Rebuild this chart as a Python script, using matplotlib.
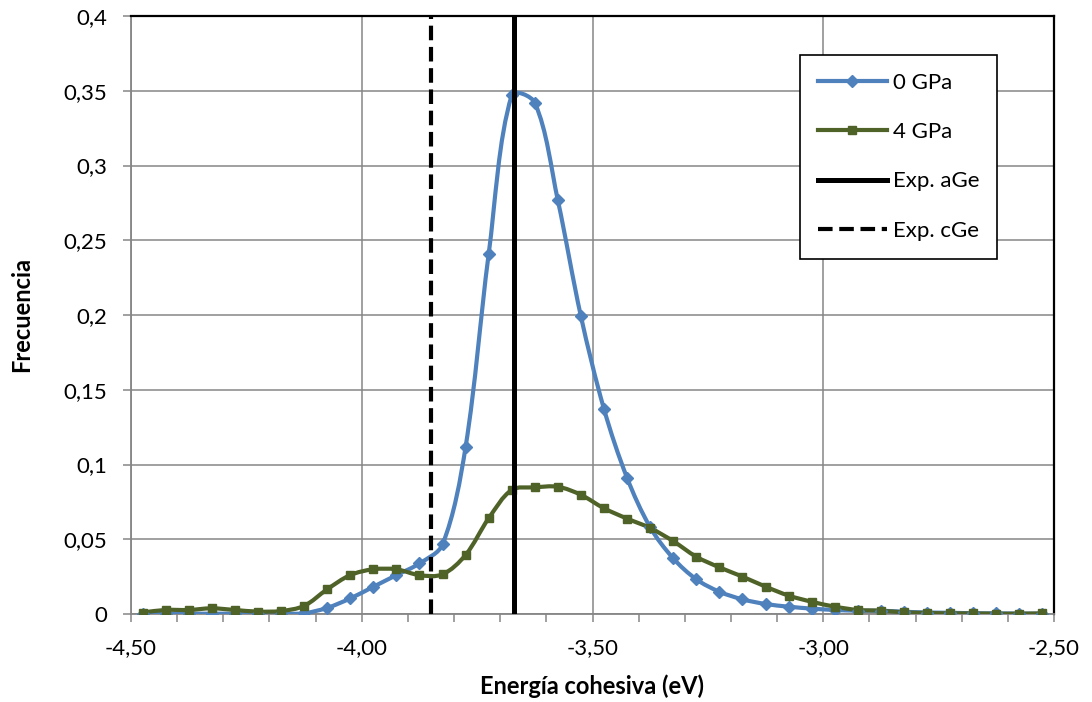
import numpy as np
import matplotlib.pyplot as plt
from matplotlib.path import Path
from matplotlib.patches import PathPatch
from matplotlib.lines import Line2D

plt.rcParams['font.family'] = ['Lato', 'DejaVu Sans']

# bin centres (eV)
energia = np.arange(-4.475, -2.5, 0.05)

frec_0gpa = [0.0002, 0.0002, 0.0002, 0.0002, 0.0002, 0.0002, 0.0002, 0.0005, 0.0041, 0.0104,
             0.0182, 0.0260, 0.0338, 0.0465, 0.1117, 0.2407, 0.3470, 0.3420, 0.2766, 0.1990,
             0.1370, 0.0910, 0.0580, 0.0372, 0.0232, 0.0149, 0.0098, 0.0067, 0.0049, 0.0036,
             0.0027, 0.0022, 0.0022, 0.0015, 0.0010, 0.0008, 0.0005, 0.0004, 0.0003, 0.0002]

frec_4gpa = [0.0010, 0.0027, 0.0027, 0.0038, 0.0027, 0.0016, 0.0020, 0.0054, 0.0165, 0.0260,
             0.0299, 0.0299, 0.0260, 0.0265, 0.0395, 0.0640, 0.0830, 0.0847, 0.0851, 0.0797,
             0.0707, 0.0638, 0.0575, 0.0487, 0.0383, 0.0312, 0.0250, 0.0183, 0.0123, 0.0082,
             0.0049, 0.0027, 0.0022, 0.0011, 0.0007, 0.0004, 0.0004, 0.0002, 0.0002, 0.0004]

exp_age = -3.67
exp_cge = -3.85

xticks = [-4.5, -4.0, -3.5, -3.0, -2.5]
xlabels = ['-4,50', '-4,00', '-3,50', '-3,00', '-2,50']
yticks = [0, 0.05, 0.1, 0.15, 0.2, 0.25, 0.3, 0.35, 0.4]
ylabels = ['0', '0,05', '0,1', '0,15', '0,2', '0,25', '0,3', '0,35', '0,4']

azul = '#4F81BD'
verde = '#4F6228'
gris = '#868686'


def curva_suave(ax, x, y):
    # Excel-like smoothed line: bezier control points scaled by segment lengths on screen
    tr = ax.transData
    pts = tr.transform(np.column_stack([x, y]))
    n = len(pts)
    d = np.hypot(*np.diff(pts, axis=0).T)
    verts = [pts[0]]
    codes = [Path.MOVETO]
    for i in range(n - 1):
        if i > 0:
            c1 = pts[i] + (pts[i + 1] - pts[i - 1]) * d[i] / (d[i - 1] + d[i]) / 3
        else:
            c1 = pts[i] + (pts[i + 1] - pts[i]) / 3
        if i + 2 < n:
            c2 = pts[i + 1] - (pts[i + 2] - pts[i]) * d[i] / (d[i] + d[i + 1]) / 3
        else:
            c2 = pts[i + 1] - (pts[i + 1] - pts[i]) / 3
        verts += [c1, c2, pts[i + 1]]
        codes += [Path.CURVE4] * 3
    verts = tr.inverted().transform(np.array(verts))
    return Path(verts, codes)


fig = plt.figure(figsize=(10.92, 7.02), dpi=100)
ax = fig.add_axes([131 / 1092, 1 - 614 / 702, 923 / 1092, 598 / 702])

ax.set_xlim(-4.5, -2.5)
ax.set_ylim(0, 0.4)

ax.grid(True, color=gris, lw=1.1, zorder=0)
ax.set_axisbelow(True)

ax.add_patch(PathPatch(curva_suave(ax, energia, frec_0gpa), fill=False, edgecolor=azul, lw=3, zorder=3))
ax.plot(energia, frec_0gpa, ls='none', marker='D', ms=6, color=azul, zorder=4)
ax.add_patch(PathPatch(curva_suave(ax, energia, frec_4gpa), fill=False, edgecolor=verde, lw=3, zorder=3))
ax.plot(energia, frec_4gpa, ls='none', marker='s', ms=5.5, color=verde, zorder=4)

ax.axvline(exp_age, color='black', lw=3.6, zorder=5)
ax.axvline(exp_cge, color='black', lw=3, ls=(0, (3.5, 1.6)), zorder=5)

ax.set_xticks(xticks)
ax.set_xticklabels(xlabels)
ax.set_xticks(np.arange(-4.5, -2.49, 0.1), minor=True)
ax.set_yticks(yticks)
ax.set_yticklabels(ylabels)
ax.tick_params(axis='both', which='both', direction='out', length=6, width=1.1, color=gris,
               labelsize=16)
ax.tick_params(axis='x', which='major', pad=11)
ax.tick_params(axis='y', which='major', pad=11)

for lado in ['left', 'bottom']:
    ax.spines[lado].set_color(gris)
    ax.spines[lado].set_linewidth(1.3)
for lado in ['top', 'right']:
    ax.spines[lado].set_color('black')
    ax.spines[lado].set_linewidth(1.6)

ax.set_xlabel('Energía cohesiva (eV)', fontsize=17, fontweight='bold', labelpad=12)
ax.set_ylabel('Frecuencia', fontsize=17, fontweight='bold', labelpad=22)

handles = [
    Line2D([], [], color=azul, lw=3, marker='D', ms=6),
    Line2D([], [], color=verde, lw=3, marker='s', ms=5.5),
    Line2D([], [], color='black', lw=3.6),
    Line2D([], [], color='black', lw=3, ls=(0, (3.5, 1.6))),
]
leg = ax.legend(handles, ['0 GPa', '4 GPa', 'Exp. aGe', 'Exp. cGe'],
                loc='upper left', bbox_to_anchor=((800 - 131) / 923, (614 - 55) / 598),
                fontsize=16, frameon=True, fancybox=False, edgecolor='black',
                framealpha=1, handlelength=3.1, handletextpad=0.27, labelspacing=1.32,
                borderpad=0.8, borderaxespad=0)
leg.get_frame().set_linewidth(1.2)
leg.set_zorder(10)

fig.savefig('out.png', dpi=100)
